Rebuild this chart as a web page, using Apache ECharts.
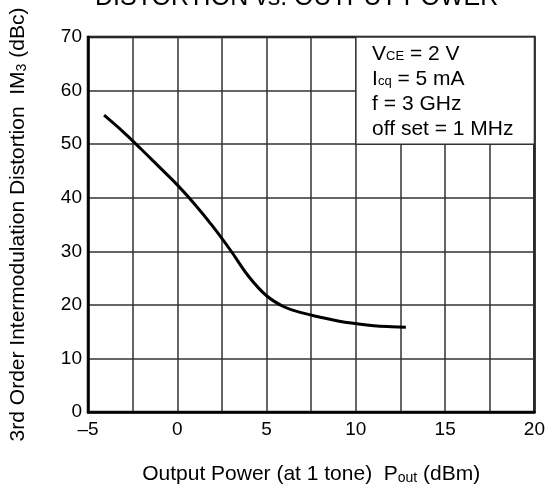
<!DOCTYPE html>
<html>
<head>
<meta charset="utf-8">
<script src="https://cdn.jsdelivr.net/npm/echarts@6/dist/echarts.min.js"></script>
<style>html,body{margin:0;padding:0;background:#fff}#c{width:548px;height:490px}</style>
</head>
<body>
<div id="c"></div>
<script>
const pout = [-4.1, -3, -2, -1, 0, 1, 2, 3, 4, 5, 6, 7, 8, 9, 10, 11, 12, 12.8];
const im3 = [55.4, 52.2, 49.0, 45.7, 42.4, 38.7, 34.6, 30.1, 25.3, 21.7, 19.6, 18.5, 17.7, 17.0, 16.5, 16.1, 15.9, 15.8];
const xTicks = [-5, 0, 5, 10, 15, 20];
const yTicks = [0, 10, 20, 30, 40, 50, 60, 70];
const conditions = ['{t|V}{s|CE}{t| = 2 V}', '{t|I}{s|cq}{t| = 5 mA}', '{t|f = 3 GHz}', '{t|off set = 1 MHz}'];
const boxFrom = [10, 50], boxTo = [20, 70];

const font = 'Liberation Sans, Arial, sans-serif';
const richText = {
  t: { fontFamily: font, fontSize: 21, color: '#000' },
  s: { fontFamily: font, fontSize: 14, color: '#000', padding: [7, 0, 0, 0] }
};
const chart = echarts.init(document.getElementById('c'));
chart.setOption({
  animation: false,
  backgroundColor: '#fff',
  textStyle: { fontFamily: font, color: '#000' },
  title: {
    text: 'DISTORTION vs. OUTPUT POWER',
    left: 90, top: -19,
    textStyle: { fontFamily: font, fontSize: 25, fontWeight: 'normal', color: '#000' }
  },
  grid: { left: 82, right: 13, top: 37, bottom: 78, show: true, borderColor: '#000', borderWidth: 2.5, backgroundColor: 'transparent' },
  xAxis: {
    type: 'value', min: -5, max: 20, interval: 2.5,
    name: '{t|Output Power (at 1 tone)  P}{s|out}{t| (dBm)}',
    nameLocation: 'middle', nameGap: 52,
    nameTextStyle: { rich: richText },
    axisLine: { show: true, onZero: false, lineStyle: { color: '#000', width: 2.5 } },
    axisTick: { show: false },
    axisLabel: {
      fontFamily: font, fontSize: 19, color: '#000', margin: 8,
      formatter: v => xTicks.includes(v) ? (v < 0 ? '\u2013' + Math.abs(v) : String(v)) : ''
    },
    splitLine: { show: true, lineStyle: { color: '#333', width: 1.5 } }
  },
  yAxis: {
    type: 'value', min: 0, max: 70, interval: 10,
    name: '{t|3rd Order Intermodulation Distortion  IM}{s|3}{t| (dBc)}',
    nameLocation: 'middle', nameGap: 59,
    nameTextStyle: { rich: richText },
    axisLine: { show: true, onZero: false, lineStyle: { color: '#000', width: 2.5 } },
    axisTick: { show: false },
    axisLabel: { fontFamily: font, fontSize: 19, color: '#000', margin: 6,
      formatter: v => yTicks.includes(v) ? String(v) : '' },
    splitLine: { show: true, lineStyle: { color: '#333', width: 1.5 } }
  },
  series: [{
    type: 'line',
    data: pout.map((x, i) => [x, im3[i]]),
    smooth: 0.4,
    showSymbol: false,
    lineStyle: { color: '#000', width: 3 },
    markArea: {
      silent: true,
      itemStyle: { color: '#fff', borderColor: '#333', borderWidth: 1.5 },
      label: {
        show: true, position: 'insideTopLeft', distance: 5, offset: [12, 0],
        formatter: conditions.join('\n'),
        lineHeight: 25,
        rich: {
          t: { fontFamily: font, fontSize: 21, color: '#000', lineHeight: 25 },
          s: { fontFamily: font, fontSize: 13, color: '#000', lineHeight: 25, padding: [6, 0, 0, 0] }
        }
      },
      data: [[{ coord: boxFrom }, { coord: boxTo }]]
    }
  }]
});
</script>
</body>
</html>
